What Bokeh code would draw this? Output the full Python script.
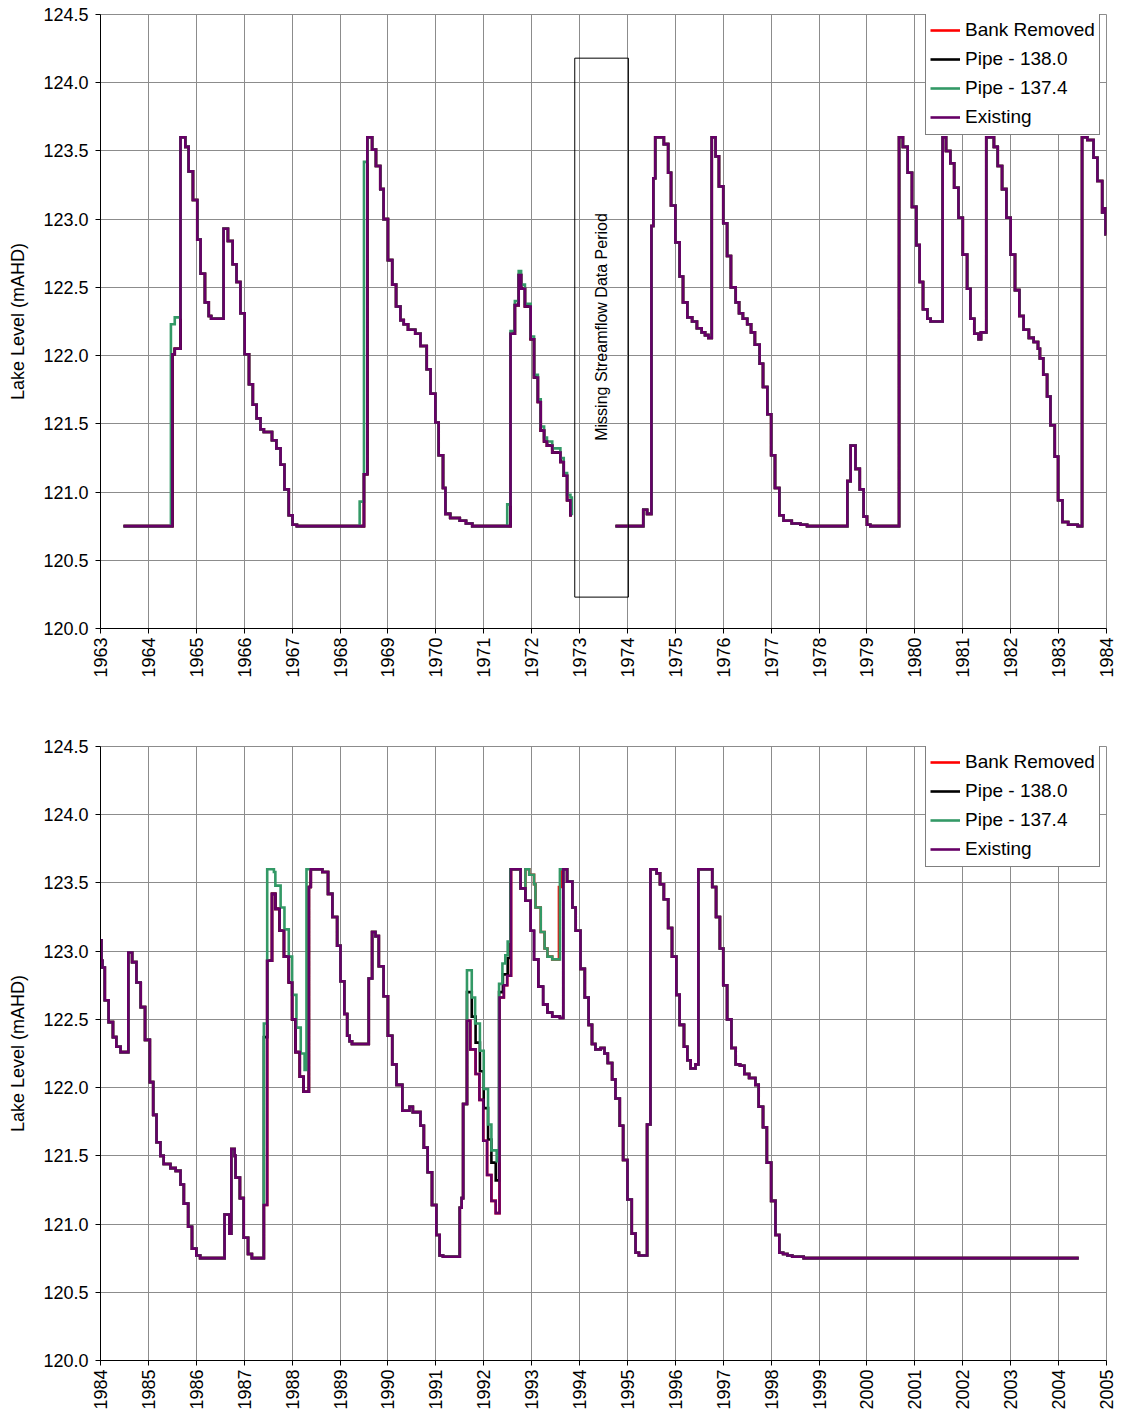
from math import pi
from bokeh.plotting import figure
from bokeh.models import Range1d, FixedTicker, NumeralTickFormatter, Legend, LegendItem
from bokeh.layouts import column
from bokeh.embed import file_html
from bokeh.resources import INLINE
from bokeh.core.properties import value

FONT = "Liberation Sans"

# ---------------- data ----------------
top_years = [1963, 1964, 1965, 1966, 1967, 1968, 1969, 1970, 1971, 1972, 1973,
             1974, 1975, 1976, 1977, 1978, 1979, 1980, 1981, 1982, 1983, 1984]
bottom_years = [1984, 1985, 1986, 1987, 1988, 1989, 1990, 1991, 1992, 1993, 1994,
                1995, 1996, 1997, 1998, 1999, 2000, 2001, 2002, 2003, 2004, 2005]
level_ticks = [120.0, 120.5, 121.0, 121.5, 122.0, 122.5, 123.0, 123.5, 124.0, 124.5]
series_names = ["Bank Removed", "Pipe - 138.0", "Pipe - 137.4", "Existing"]
series_colors = ["#FF0000", "#000000", "#339966", "#660066"]

# Existing, 1963-1972 (step changes: time, level)
top_a_time = [
    1963.48, 1964.50, 1964.55, 1964.67, 1964.77, 1964.84, 1964.93, 1965.02, 1965.09, 1965.18,
    1965.26, 1965.31, 1965.57, 1965.66, 1965.76, 1965.84, 1965.92, 1966.01, 1966.10, 1966.18,
    1966.26, 1966.34, 1966.41, 1966.58, 1966.67, 1966.76, 1966.84, 1966.93, 1967.01, 1967.10,
    1968.50, 1968.57, 1968.67, 1968.75, 1968.84, 1968.91, 1969.00, 1969.09, 1969.17, 1969.26,
    1969.33, 1969.42, 1969.57, 1969.68, 1969.81, 1969.89, 1969.99, 1970.06, 1970.15, 1970.20,
    1970.30, 1970.50, 1970.63, 1970.76, 1971.56, 1971.65, 1971.73, 1971.78, 1971.86, 1971.98,
    1972.05, 1972.13, 1972.19, 1972.26, 1972.32, 1972.43, 1972.60, 1972.67, 1972.74, 1972.81]
top_a_level = [
    120.75, 122.01, 122.05, 123.60, 123.53, 123.35, 123.14, 122.85, 122.60, 122.39,
    122.29, 122.27, 122.93, 122.84, 122.67, 122.54, 122.31, 122.01, 121.79, 121.64,
    121.54, 121.46, 121.44, 121.38, 121.32, 121.20, 121.02, 120.83, 120.76, 120.75,
    121.13, 123.60, 123.51, 123.39, 123.22, 123.00, 122.70, 122.52, 122.36, 122.26,
    122.23, 122.19, 122.16, 122.07, 121.90, 121.72, 121.51, 121.27, 121.03, 120.84,
    120.81, 120.79, 120.77, 120.75, 122.16, 122.37, 122.59, 122.49, 122.36, 122.12,
    121.84, 121.66, 121.45, 121.37, 121.34, 121.29, 121.22, 121.12, 120.94, 120.83]
top_a_end = 1972.84

# Existing, 1973-1984
top_b_time = [
    1973.75, 1974.33, 1974.41, 1974.50, 1974.54, 1974.58, 1974.76, 1974.85, 1974.91, 1975.00,
    1975.09, 1975.16, 1975.25, 1975.35, 1975.45, 1975.55, 1975.62, 1975.69, 1975.76, 1975.84,
    1975.91, 1976.00, 1976.08, 1976.16, 1976.26, 1976.33, 1976.41, 1976.50, 1976.58, 1976.66,
    1976.76, 1976.83, 1976.92, 1977.00, 1977.08, 1977.17, 1977.26, 1977.43, 1977.61, 1977.75,
    1978.59, 1978.66, 1978.76, 1978.85, 1978.93, 1979.00, 1979.07, 1979.67, 1979.75, 1979.85,
    1979.94, 1980.03, 1980.10, 1980.17, 1980.26, 1980.33, 1980.58, 1980.65, 1980.74, 1980.82,
    1980.91, 1981.00, 1981.09, 1981.16, 1981.24, 1981.33, 1981.38, 1981.49, 1981.65, 1981.73,
    1981.82, 1981.91, 1982.00, 1982.09, 1982.18, 1982.27, 1982.38, 1982.48, 1982.57, 1982.61,
    1982.68, 1982.76, 1982.83, 1982.92, 1982.99, 1983.08, 1983.20, 1983.40, 1983.49, 1983.60,
    1983.73, 1983.81, 1983.91, 1983.96, 1983.98]
top_b_level = [
    120.75, 120.87, 120.84, 122.95, 123.30, 123.60, 123.55, 123.34, 123.10, 122.83,
    122.58, 122.39, 122.28, 122.25, 122.20, 122.17, 122.15, 122.13, 123.60, 123.46,
    123.24, 122.97, 122.73, 122.50, 122.39, 122.31, 122.27, 122.23, 122.17, 122.08,
    121.94, 121.77, 121.57, 121.27, 121.03, 120.83, 120.79, 120.77, 120.76, 120.75,
    121.08, 121.34, 121.17, 121.02, 120.82, 120.76, 120.75, 123.60, 123.53, 123.34,
    123.09, 122.81, 122.54, 122.34, 122.27, 122.25, 123.60, 123.50, 123.41, 123.23,
    123.01, 122.74, 122.49, 122.27, 122.16, 122.12, 122.17, 123.60, 123.53, 123.39,
    123.22, 123.01, 122.74, 122.48, 122.29, 122.19, 122.13, 122.10, 122.05, 121.98,
    121.86, 121.70, 121.49, 121.26, 120.94, 120.78, 120.76, 120.75, 123.60, 123.58,
    123.45, 123.28, 123.05, 123.08, 122.89]
top_b_end = 1984.0

# Existing, 1984-2004
bottom_time = [
    1984.00, 1984.02, 1984.04, 1984.09, 1984.17, 1984.26, 1984.33, 1984.42, 1984.58, 1984.66,
    1984.75, 1984.84, 1984.93, 1985.03, 1985.10, 1985.17, 1985.25, 1985.32, 1985.46, 1985.57,
    1985.67, 1985.74, 1985.83, 1985.91, 1986.00, 1986.08, 1986.59, 1986.69, 1986.73, 1986.80,
    1986.82, 1986.91, 1986.99, 1987.08, 1987.16, 1987.41, 1987.48, 1987.58, 1987.65, 1987.74,
    1987.83, 1987.93, 1988.00, 1988.07, 1988.16, 1988.24, 1988.35, 1988.39, 1988.63, 1988.75,
    1988.84, 1988.94, 1989.01, 1989.09, 1989.15, 1989.20, 1989.25, 1989.60, 1989.67, 1989.74,
    1989.81, 1989.91, 1990.00, 1990.09, 1990.18, 1990.30, 1990.45, 1990.52, 1990.68, 1990.75,
    1990.83, 1990.92, 1991.01, 1991.08, 1991.15, 1991.50, 1991.54, 1991.57, 1991.65, 1991.72,
    1991.83, 1991.91, 1991.99, 1992.07, 1992.16, 1992.25, 1992.33, 1992.42, 1992.49, 1992.57,
    1992.77, 1992.87, 1992.98, 1993.05, 1993.14, 1993.24, 1993.33, 1993.43, 1993.59, 1993.66,
    1993.74, 1993.85, 1993.92, 1994.02, 1994.11, 1994.19, 1994.26, 1994.33, 1994.44, 1994.52,
    1994.59, 1994.68, 1994.75, 1994.84, 1994.91, 1995.00, 1995.09, 1995.17, 1995.24, 1995.41,
    1995.48, 1995.61, 1995.68, 1995.76, 1995.85, 1995.93, 1996.02, 1996.09, 1996.18, 1996.25,
    1996.32, 1996.42, 1996.48, 1996.77, 1996.85, 1996.93, 1997.00, 1997.08, 1997.17, 1997.26,
    1997.35, 1997.44, 1997.54, 1997.67, 1997.74, 1997.83, 1997.91, 1998.00, 1998.09, 1998.17,
    1998.25, 1998.34, 1998.44, 1998.68]
bottom_level = [
    123.08, 122.93, 122.88, 122.64, 122.48, 122.37, 122.30, 122.26, 122.99, 122.92,
    122.77, 122.59, 122.35, 122.04, 121.80, 121.60, 121.50, 121.44, 121.41, 121.39,
    121.29, 121.15, 120.98, 120.82, 120.77, 120.75, 121.07, 120.93, 121.55, 121.50,
    121.34, 121.19, 120.90, 120.78, 120.75, 121.14, 122.93, 123.42, 123.31, 123.15,
    122.96, 122.77, 122.50, 122.26, 122.08, 121.97, 123.47, 123.60, 123.58, 123.42,
    123.25, 123.04, 122.78, 122.54, 122.38, 122.34, 122.32, 122.80, 123.14, 123.11,
    122.89, 122.67, 122.38, 122.17, 122.02, 121.83, 121.86, 121.82, 121.72, 121.56,
    121.38, 121.14, 120.92, 120.77, 120.76, 121.12, 121.19, 121.88, 122.49, 122.28,
    122.10, 121.91, 121.61, 121.36, 121.17, 121.08, 122.66, 122.75, 122.82, 123.60,
    123.46, 123.37, 123.15, 122.94, 122.74, 122.61, 122.55, 122.52, 122.51, 123.60,
    123.51, 123.32, 123.15, 122.87, 122.66, 122.46, 122.32, 122.28, 122.29, 122.25,
    122.18, 122.06, 121.92, 121.72, 121.47, 121.18, 120.93, 120.79, 120.77, 121.73,
    123.60, 123.57, 123.49, 123.38, 123.17, 122.96, 122.68, 122.46, 122.30, 122.20,
    122.14, 122.17, 123.60, 123.47, 123.25, 123.02, 122.75, 122.50, 122.29, 122.17,
    122.16, 122.10, 122.07, 122.02, 121.86, 121.71, 121.45, 121.17, 120.92, 120.79,
    120.78, 120.77, 120.76, 120.75]
bottom_end = 2004.42

# Periods where the options differ from Existing: (times, levels, end of period)
top_pipe1374 = [
    ([1964.47, 1964.55, 1964.67], [122.23, 122.28, 123.60], 1964.70),
    ([1968.41, 1968.50, 1968.57], [120.93, 123.42, 123.60], 1968.62),
    ([1971.49, 1971.56, 1971.65, 1971.73, 1971.78, 1971.86, 1971.98, 1972.05, 1972.13,
      1972.19, 1972.26, 1972.32, 1972.43, 1972.60, 1972.67, 1972.74, 1972.81],
     [120.91, 122.18, 122.40, 122.62, 122.52, 122.38, 122.14, 121.86, 121.68,
      121.48, 121.40, 121.37, 121.32, 121.25, 121.14, 120.98, 120.96], 1972.84),
]
bottom_pipe1374 = [
    ([1987.41, 1987.48, 1987.62, 1987.65, 1987.76, 1987.84, 1987.93, 1988.00, 1988.09,
      1988.18, 1988.26, 1988.30],
     [122.47, 123.60, 123.58, 123.48, 123.32, 123.16, 122.96, 122.68, 122.44,
      122.25, 122.13, 123.60], 1988.40),
    ([1991.65, 1991.75, 1991.82, 1991.92, 1992.00, 1992.09, 1992.16, 1992.27, 1992.32,
      1992.39, 1992.45, 1992.50, 1992.56],
     [122.86, 122.66, 122.47, 122.27, 121.99, 121.73, 121.54, 121.46, 122.76,
      122.91, 122.97, 123.07, 123.60], 1992.60),
    ([1992.87, 1992.95, 1993.05, 1993.08, 1993.19, 1993.27, 1993.33, 1993.43, 1993.59],
     [123.60, 123.56, 123.49, 123.32, 123.14, 123.02, 122.96, 122.94, 123.60], 1993.70),
]
bottom_pipe1380 = [
    ([1987.41], [122.37], 1987.48),
    ([1991.65, 1991.75, 1991.83, 1991.92, 1992.00, 1992.09, 1992.16, 1992.25, 1992.32,
      1992.40, 1992.50, 1992.56],
     [122.70, 122.52, 122.33, 122.12, 121.85, 121.62, 121.45, 121.32, 122.70,
      122.83, 122.95, 123.60], 1992.60),
]
bottom_bank_removed = [
    ([1992.87, 1992.95, 1993.05, 1993.08, 1993.19, 1993.27, 1993.33, 1993.43, 1993.57, 1993.62],
     [123.60, 123.56, 123.49, 123.32, 123.14, 123.02, 122.96, 122.94, 123.47, 123.60], 1993.70),
]

# annotation (missing data period) placement
MISSING_LEFT, MISSING_RIGHT = 1972.90, 1974.02
MISSING_BOTTOM, MISSING_TOP = 120.23, 124.18
MISSING_TEXT = "Missing Streamflow Data Period"


# ---------------- helpers ----------------
def step_xy(t, v, end):
    xs, ys = [], []
    for i in range(len(t)):
        x1 = t[i + 1] if i + 1 < len(t) else end
        xs += [t[i], x1]
        ys += [v[i], v[i]]
    return xs, ys


def merge(t, v, windows):
    t, v = list(t), list(v)
    for wt, wv, wend in windows:
        idx = max(i for i in range(len(t)) if t[i] <= wend)
        resume = v[idx]
        n = sum(1 for x in t if x < wt[0])
        rest = [(a, b) for a, b in zip(t, v) if a > wend]
        t = t[:n] + list(wt) + [wend] + [a for a, _ in rest]
        v = v[:n] + list(wv) + [resume] + [b for _, b in rest]
    return t, v


def make_panel(years, segments, windows, height, border_bottom, missing):
    p = figure(width=1124, height=height,
               x_range=Range1d(years[0], years[-1]), y_range=Range1d(120.0, 124.5),
               output_backend="svg", toolbar_location=None,
               min_border_left=100, min_border_right=18,
               min_border_top=14, min_border_bottom=border_bottom)
    p.background_fill_color = "white"
    p.outline_line_color = "#8c8c8c"

    # grid
    for g in (p.xgrid, p.ygrid):
        g.grid_line_color = "#8c8c8c"
        g.grid_line_width = 1
    p.xgrid.ticker = FixedTicker(ticks=years)
    p.ygrid.ticker = FixedTicker(ticks=level_ticks)

    # axes
    p.xaxis.ticker = FixedTicker(ticks=years)
    p.yaxis.ticker = FixedTicker(ticks=level_ticks)
    p.yaxis.formatter = NumeralTickFormatter(format="0.0")
    p.xaxis.major_label_orientation = pi / 2
    for ax in (p.xaxis, p.yaxis):
        ax.axis_line_color = "black"
        ax.major_tick_line_color = "black"
        ax.major_tick_out = 5
        ax.major_tick_in = 0
        ax.minor_tick_line_color = None
        ax.major_label_text_font = FONT
        ax.major_label_text_font_size = "18px"
        ax.major_label_text_color = "black"
    p.xaxis.major_label_standoff = 4
    p.yaxis.major_label_standoff = 7
    p.yaxis.axis_label = "Lake Level (mAHD)"
    p.yaxis.axis_label_text_font = FONT
    p.yaxis.axis_label_text_font_size = "18px"
    p.yaxis.axis_label_text_font_style = "normal"
    p.yaxis.axis_label_text_color = "black"
    p.yaxis.axis_label_standoff = 12

    # series: drawn red, black, green, purple (Existing on top)
    first = {}
    for name, color in zip(series_names, series_colors):
        for (t, v, end) in segments:
            w = [win for win in windows.get(name, []) if t[0] <= win[0][0] <= end]
            mt, mv = merge(t, v, w)
            xs, ys = step_xy(mt, mv, end)
            r = p.line(xs, ys, line_color=color, line_width=2.6, line_join="miter")
            first.setdefault(name, r)

    if missing:
        p.quad(left=[MISSING_LEFT], right=[MISSING_RIGHT],
               bottom=[MISSING_BOTTOM], top=[MISSING_TOP],
               fill_alpha=0, line_color="black", line_width=1)
        p.text(x=[(MISSING_LEFT + MISSING_RIGHT) / 2], y=[122.21], text=[MISSING_TEXT],
               angle=pi / 2, text_align="center", text_baseline="middle",
               text_font=value(FONT), text_font_size="16px", text_color="black")

    legend = Legend(items=[LegendItem(label=n, renderers=[first[n]]) for n in series_names],
                    location=(825, 493))
    legend.label_text_font = FONT
    legend.label_text_font_size = "19px"
    legend.label_text_color = "black"
    legend.glyph_width = 30
    legend.glyph_height = 26
    legend.label_height = 26
    legend.label_standoff = 5
    legend.padding = 4
    legend.spacing = 3
    legend.margin = 0
    legend.border_line_color = "black"
    legend.border_line_width = 1
    legend.background_fill_color = "white"
    legend.background_fill_alpha = 1
    p.add_layout(legend)
    return p


top_windows = {"Pipe - 137.4": top_pipe1374}
bottom_windows = {"Pipe - 137.4": bottom_pipe1374,
                  "Pipe - 138.0": bottom_pipe1380,
                  "Bank Removed": bottom_bank_removed}

p1 = make_panel(top_years,
                [(top_a_time, top_a_level, top_a_end), (top_b_time, top_b_level, top_b_end)],
                top_windows, 732, 104, True)
p2 = make_panel(bottom_years, [(bottom_time, bottom_level, bottom_end)],
                bottom_windows, 688, 60, False)

layout = column(p1, p2)
open("out.html", "w").write(file_html(layout, INLINE))
